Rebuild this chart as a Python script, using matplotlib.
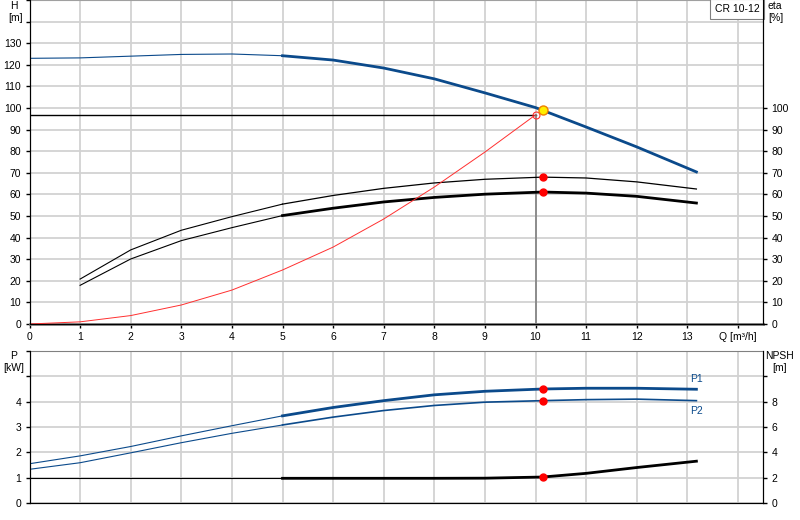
import matplotlib
matplotlib.use("Agg")
import matplotlib.pyplot as plt

plt.rcParams['font.family'] = ['Liberation Sans', 'DejaVu Sans']
plt.rcParams['font.size'] = 7.5

# pump curve H [m]
q_h = [0, 1, 2, 3, 4, 5, 6, 7, 8, 9, 10, 11, 12, 13.18]
h_vals = [123, 123.2, 124, 124.8, 125, 124.2, 122.2, 118.5, 113.5, 107, 100.2, 91.2, 82, 70.4]

# efficiency curves eta [%]
q_eta = [1, 2, 3, 4, 5, 6, 7, 8, 9, 10.14, 11, 12, 13.18]
eta_pump = [20.8, 34.3, 43.4, 49.7, 55.5, 59.5, 62.8, 65.3, 67, 68, 67.6, 65.8, 62.5]
eta_total = [17.9, 30.1, 38.6, 44.6, 50.2, 53.6, 56.5, 58.6, 60.1, 61.1, 60.6, 59.1, 56]

# system curve
q_sys = [0, 1, 2, 3, 4, 5, 6, 7, 8, 9, 10.0]
h_sys = [0, 1, 3.9, 8.8, 15.7, 25, 35.6, 48.6, 63.4, 79.6, 96.8]

# power curves P1, P2 [kW]
q_p = [0, 1, 2, 3, 4, 5, 6, 7, 8, 9, 10.14, 11, 12, 13.18]
p1_vals = [1.55, 1.86, 2.23, 2.65, 3.05, 3.44, 3.77, 4.04, 4.27, 4.41, 4.5, 4.53, 4.53, 4.49]
p2_vals = [1.33, 1.59, 1.98, 2.38, 2.75, 3.08, 3.39, 3.65, 3.85, 3.98, 4.04, 4.08, 4.1, 4.04]

# NPSH [m]
q_npsh = [0, 1, 2, 3, 4, 5, 6, 7, 8, 9, 10.14, 11, 12, 13.18]
npsh_vals = [1.95, 1.95, 1.95, 1.95, 1.95, 1.95, 1.95, 1.95, 1.95, 1.96, 2.05, 2.34, 2.8, 3.3]

# duty point
q_duty, h_duty = 10.0, 96.8
q_op, h_op = 10.14, 99.2
eta_pump_op, eta_total_op = 68, 61.1
p1_op, p2_op, npsh_op = 4.5, 4.04, 2.05

blue = '#0b4a8b'
grid_c = '#d2d2d2'
q_split = 5  # thin line below this flow, thick above


def split_plot(ax, xs, ys, color, thin=0.8, thick=2.0):
    lo = [(x, y) for x, y in zip(xs, ys) if x <= q_split]
    hi = [(x, y) for x, y in zip(xs, ys) if x >= q_split]
    if lo:
        ax.plot([p[0] for p in lo], [p[1] for p in lo], color=color, lw=thin, zorder=3)
    if hi:
        ax.plot([p[0] for p in hi], [p[1] for p in hi], color=color, lw=thick, zorder=3)


fig = plt.figure(figsize=(8, 5.2), dpi=100)
ax1 = fig.add_axes([29.5 / 800, 196 / 520, (763 - 29.5) / 800, 324 / 520])
ax3 = fig.add_axes([29.5 / 800, 17 / 520, (763 - 29.5) / 800, (503 - 351) / 520])

xmax = (763 - 29.5) / 50.6

# ---- top panel
ax1.set_xlim(0, xmax)
ax1.set_ylim(0, 150)
ax1.set_xticks(range(15))
ax1.set_xticklabels([str(i) for i in range(14)] + ['Q [m³/h]'])
ax1.set_yticks(range(0, 151, 10))
ax1.set_yticklabels([str(v) for v in range(0, 140, 10)] + ['', ''])
ax1.grid(True, color=grid_c, lw=1.3)
ax1.set_axisbelow(True)
ax1.tick_params(direction='out', length=3, width=1, pad=3)
ax1.spines['top'].set_color('#a0a0a0')
ax1.spines['bottom'].set_color('#808080')
ax1.spines['bottom'].set_linewidth(2)

ax2 = ax1.twinx()
ax2.set_ylim(0, 150)
ax2.set_yticks(range(0, 101, 10))
ax2.tick_params(direction='out', length=3, width=1, pad=3)
ax2.spines['top'].set_visible(False)

split_plot(ax1, q_h, h_vals, blue)
split_plot(ax1, q_eta, eta_pump, 'black', thin=0.8, thick=0.9)
split_plot(ax1, q_eta, eta_total, 'black')
ax1.plot(q_sys, h_sys, color='#ff3030', lw=0.7, zorder=3)

ax1.plot([0, q_duty], [h_duty, h_duty], color='black', lw=1, zorder=2)
ax1.plot([q_duty, q_duty], [0, h_duty], color='#808080', lw=1.2, zorder=2)
ax1.plot(q_duty, h_duty, 'o', ms=5, mfc='none', mec='#ff3030', mew=0.8, zorder=4)
ax1.plot(q_op, h_op, 'o', ms=6.5, mfc='#ffee00', mec='#f08000', mew=1, zorder=5)
ax1.plot([q_op, q_op], [eta_pump_op, eta_total_op], 'o', ms=5, color='#ff0000', ls='none', zorder=5)

px, py = 1 / 50.6, 1 / 2.16  # one pixel in data units, top panel
ax1.text(-15.5 * px, 150 - 6 * py, 'H', ha='center', va='center')
ax1.text(-14 * px, 150 - 18 * py, '[m]', ha='center', va='center')
ax1.text(xmax + 5 * px, 150 - 6 * py, 'eta', ha='left', va='center')
ax1.text(xmax + 5 * px, 150 - 18 * py, '[%]', ha='left', va='center')
ax1.text(xmax - 26 * px, 150 - 9 * py, 'CR 10-12', ha='center', va='center',
         bbox=dict(boxstyle='square,pad=0.45', fc='white', ec='#808080', lw=0.8), zorder=6)

# ---- bottom panel
ax3.set_xlim(0, xmax)
ax3.set_ylim(0, 6)
ax3.set_xticks(range(15))
ax3.set_xticklabels([])
ax3.tick_params(axis='x', length=0)
ax3.set_yticks(range(0, 7))
ax3.set_yticklabels(['0', '1', '2', '3', '4', '', ''])
ax3.grid(True, color=grid_c, lw=1.3)
ax3.set_axisbelow(True)
ax3.tick_params(axis='y', direction='out', length=3, width=1, pad=3)
ax3.spines['top'].set_color('#808080')

ax4 = ax3.twinx()
ax4.set_ylim(0, 12)
ax4.set_yticks(range(0, 11, 2))
ax4.set_yticklabels(['0', '2', '4', '6', '8', ''])
ax4.tick_params(direction='out', length=3, width=1, pad=3)
ax4.spines['top'].set_visible(False)

split_plot(ax3, q_p, p1_vals, blue)
split_plot(ax3, q_p, p2_vals, blue, thin=0.8, thick=1.2)
split_plot(ax4, q_npsh, npsh_vals, 'black')
ax3.plot([q_op, q_op], [p1_op, p2_op], 'o', ms=5, color='#ff0000', ls='none', zorder=5)
ax4.plot(q_op, npsh_op, 'o', ms=5, color='#ff0000', zorder=5)

ax3.text(q_p[-1], p1_vals[-1] + 0.2, 'P1', color=blue, ha='center', va='bottom')
ax3.text(q_p[-1], p2_vals[-1] - 0.2, 'P2', color=blue, ha='center', va='top')

ax3.text(-16 * px, 6 - 5 / 25.3, 'P', ha='center', va='center')
ax3.text(-15.5 * px, 6 - 17 / 25.3, '[kW]', ha='center', va='center')
ax4.text(xmax + 17 * px, 12 - 5 / 12.65, 'NPSH', ha='center', va='center')
ax4.text(xmax + 17 * px, 12 - 17 / 12.65, '[m]', ha='center', va='center')

fig.savefig('out.png', dpi=100)
